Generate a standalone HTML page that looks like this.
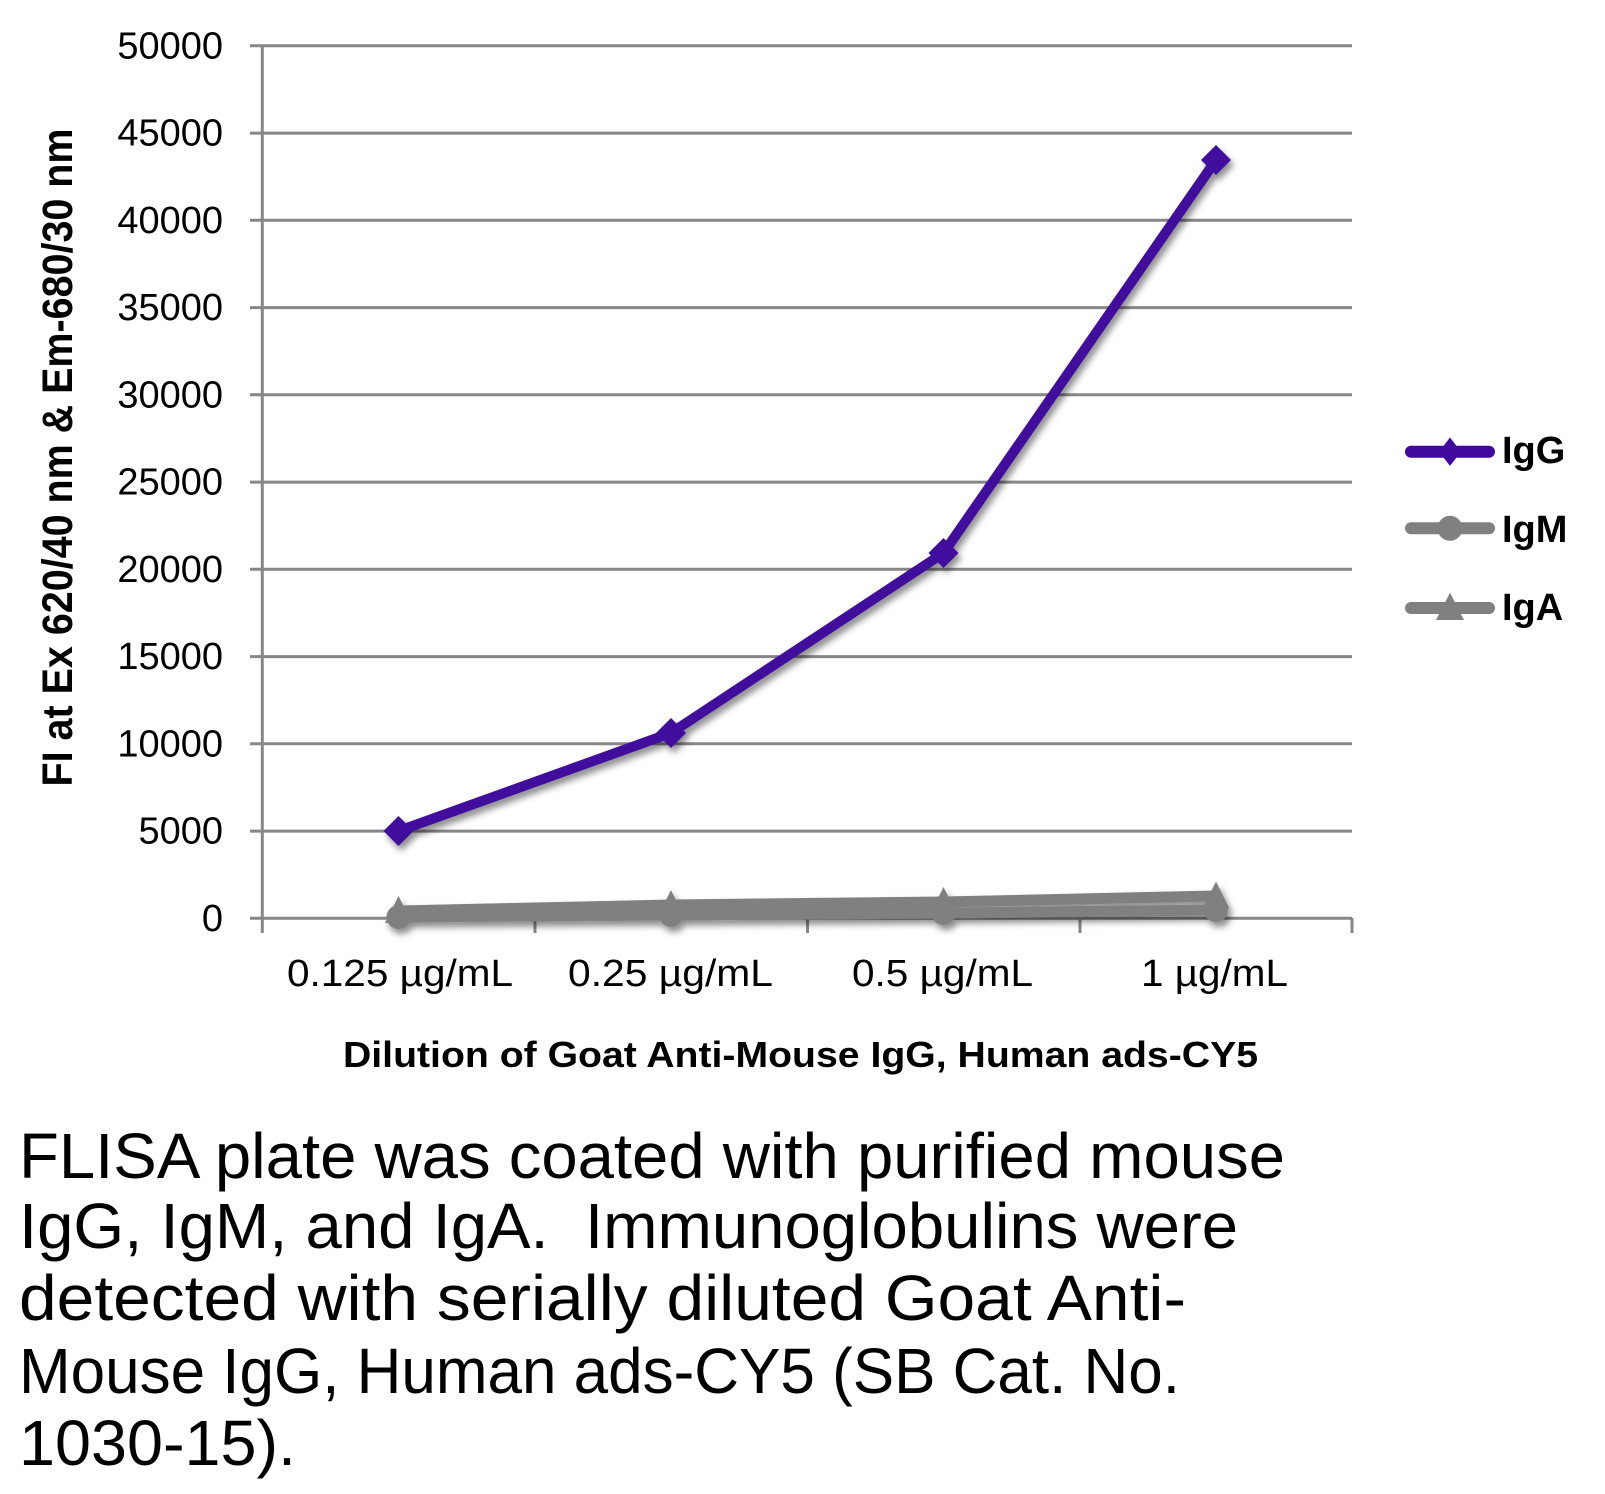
<!DOCTYPE html>
<html>
<head>
<meta charset="utf-8">
<style>
  html,body{margin:0;padding:0;background:#fff;}
  svg{display:block;}
  text{font-family:"Liberation Sans",Arial,sans-serif;fill:#000;}
</style>
</head>
<body>
<svg width="1605" height="1494" viewBox="0 0 1605 1494" xmlns="http://www.w3.org/2000/svg">
  <defs>
    <filter id="sh" x="-10%" y="-10%" width="130%" height="130%">
      <feDropShadow dx="3" dy="5" stdDeviation="3.5" flood-color="#000" flood-opacity="0.45"/>
    </filter>
  </defs>
  <rect width="1605" height="1494" fill="#fff"/>

  <!-- gridlines -->
  <g stroke="#878787" stroke-width="3">
    <line x1="250" y1="45.8" x2="1352" y2="45.8"/>
    <line x1="250" y1="133.1" x2="1352" y2="133.1"/>
    <line x1="250" y1="220.3" x2="1352" y2="220.3"/>
    <line x1="250" y1="307.6" x2="1352" y2="307.6"/>
    <line x1="250" y1="394.8" x2="1352" y2="394.8"/>
    <line x1="250" y1="482.1" x2="1352" y2="482.1"/>
    <line x1="250" y1="569.3" x2="1352" y2="569.3"/>
    <line x1="250" y1="656.6" x2="1352" y2="656.6"/>
    <line x1="250" y1="743.8" x2="1352" y2="743.8"/>
    <line x1="250" y1="831.1" x2="1352" y2="831.1"/>
    <line x1="250" y1="918.3" x2="1352" y2="918.3"/>
    <!-- y axis -->
    <line x1="262.3" y1="45" x2="262.3" y2="933"/>
    <!-- x ticks -->
    <line x1="535" y1="918" x2="535" y2="933"/>
    <line x1="807.5" y1="918" x2="807.5" y2="933"/>
    <line x1="1080" y1="918" x2="1080" y2="933"/>
    <line x1="1352" y1="918" x2="1352" y2="933"/>
  </g>

  <!-- y tick labels -->
  <g font-size="38" text-anchor="end">
    <text x="223" y="58.3">50000</text>
    <text x="223" y="145.6">45000</text>
    <text x="223" y="232.8">40000</text>
    <text x="223" y="320.1">35000</text>
    <text x="223" y="407.3">30000</text>
    <text x="223" y="494.6">25000</text>
    <text x="223" y="581.8">20000</text>
    <text x="223" y="669.1">15000</text>
    <text x="223" y="756.3">10000</text>
    <text x="223" y="843.6">5000</text>
    <text x="223" y="930.8">0</text>
  </g>

  <!-- x tick labels -->
  <g font-size="38">
    <text x="287" y="986" textLength="226" lengthAdjust="spacingAndGlyphs">0.125 µg/mL</text>
    <text x="568" y="986" textLength="205" lengthAdjust="spacingAndGlyphs">0.25 µg/mL</text>
    <text x="852" y="986" textLength="181" lengthAdjust="spacingAndGlyphs">0.5 µg/mL</text>
    <text x="1141" y="986" textLength="147" lengthAdjust="spacingAndGlyphs">1 µg/mL</text>
  </g>

  <!-- axis titles -->
  <text x="343" y="1067" font-size="36" font-weight="bold" textLength="915" lengthAdjust="spacingAndGlyphs">Dilution of Goat Anti-Mouse IgG, Human ads-CY5</text>
  <text transform="translate(72,457.5) rotate(-90)" x="0" y="0" font-size="43" font-weight="bold" text-anchor="middle" textLength="658" lengthAdjust="spacingAndGlyphs">FI at Ex 620/40 nm &amp; Em-680/30 nm</text>

  <!-- series -->
  <g filter="url(#sh)">
    <!-- IgM -->
    <polyline points="398.5,917 671,915 943.5,913 1216,910" fill="none" stroke="#808080" stroke-width="11" stroke-linejoin="round"/>
    <g fill="#808080">
      <circle cx="398.5" cy="917" r="12"/>
      <circle cx="671" cy="915" r="12"/>
      <circle cx="943.5" cy="913" r="12"/>
      <circle cx="1216" cy="910" r="12"/>
    </g>
    <!-- IgA -->
    <polyline points="398.5,911 671,905 943.5,902 1216,896" fill="none" stroke="#808080" stroke-width="11" stroke-linejoin="round"/>
    <g fill="#808080">
      <polygon points="398.5,896 412,923 385,923"/>
      <polygon points="671,890 684.5,917 657.5,917"/>
      <polygon points="943.5,887 957,914 930,914"/>
      <polygon points="1216,881.5 1229.5,908.5 1202.5,908.5"/>
    </g>
    <!-- IgG -->
    <polyline points="398.5,831 671,733 943.5,553 1216,160" fill="none" stroke="#40089c" stroke-width="10" stroke-linejoin="round"/>
    <g fill="#40089c">
      <polygon points="398.5,816 413.5,831 398.5,846 383.5,831"/>
      <polygon points="671,718 686,733 671,748 656,733"/>
      <polygon points="943.5,538 958.5,553 943.5,568 928.5,553"/>
      <polygon points="1216,145 1231,160 1216,175 1201,160"/>
    </g>
  </g>

  <!-- legend -->
  <g>
    <line x1="1411" y1="451.7" x2="1489" y2="451.7" stroke="#40089c" stroke-width="12" stroke-linecap="round"/>
    <polygon points="1450,437.5 1461,451.7 1450,465.9 1439,451.7" fill="#40089c"/>
    <line x1="1411" y1="528.3" x2="1489" y2="528.3" stroke="#808080" stroke-width="12" stroke-linecap="round"/>
    <circle cx="1450" cy="528.3" r="12.5" fill="#808080"/>
    <line x1="1411" y1="608" x2="1489" y2="608" stroke="#808080" stroke-width="12" stroke-linecap="round"/>
    <polygon points="1450,592.7 1464,620 1436,620" fill="#808080"/>
    <g font-size="38" font-weight="bold">
      <text x="1502" y="463">IgG</text>
      <text x="1502" y="542">IgM</text>
      <text x="1502" y="620">IgA</text>
    </g>
  </g>

  <!-- caption -->
  <g font-size="64">
    <text x="19" y="1178" textLength="1266" lengthAdjust="spacingAndGlyphs">FLISA plate was coated with purified mouse</text>
    <text x="19" y="1248" textLength="1219" lengthAdjust="spacingAndGlyphs">IgG, IgM, and IgA.&#160; Immunoglobulins were</text>
    <text x="19" y="1320" textLength="1167" lengthAdjust="spacingAndGlyphs">detected with serially diluted Goat Anti-</text>
    <text x="19" y="1393" textLength="1161" lengthAdjust="spacingAndGlyphs">Mouse IgG, Human ads-CY5 (SB Cat. No.</text>
    <text x="19" y="1465" textLength="277" lengthAdjust="spacingAndGlyphs">1030-15).</text>
  </g>
</svg>
</body>
</html>
